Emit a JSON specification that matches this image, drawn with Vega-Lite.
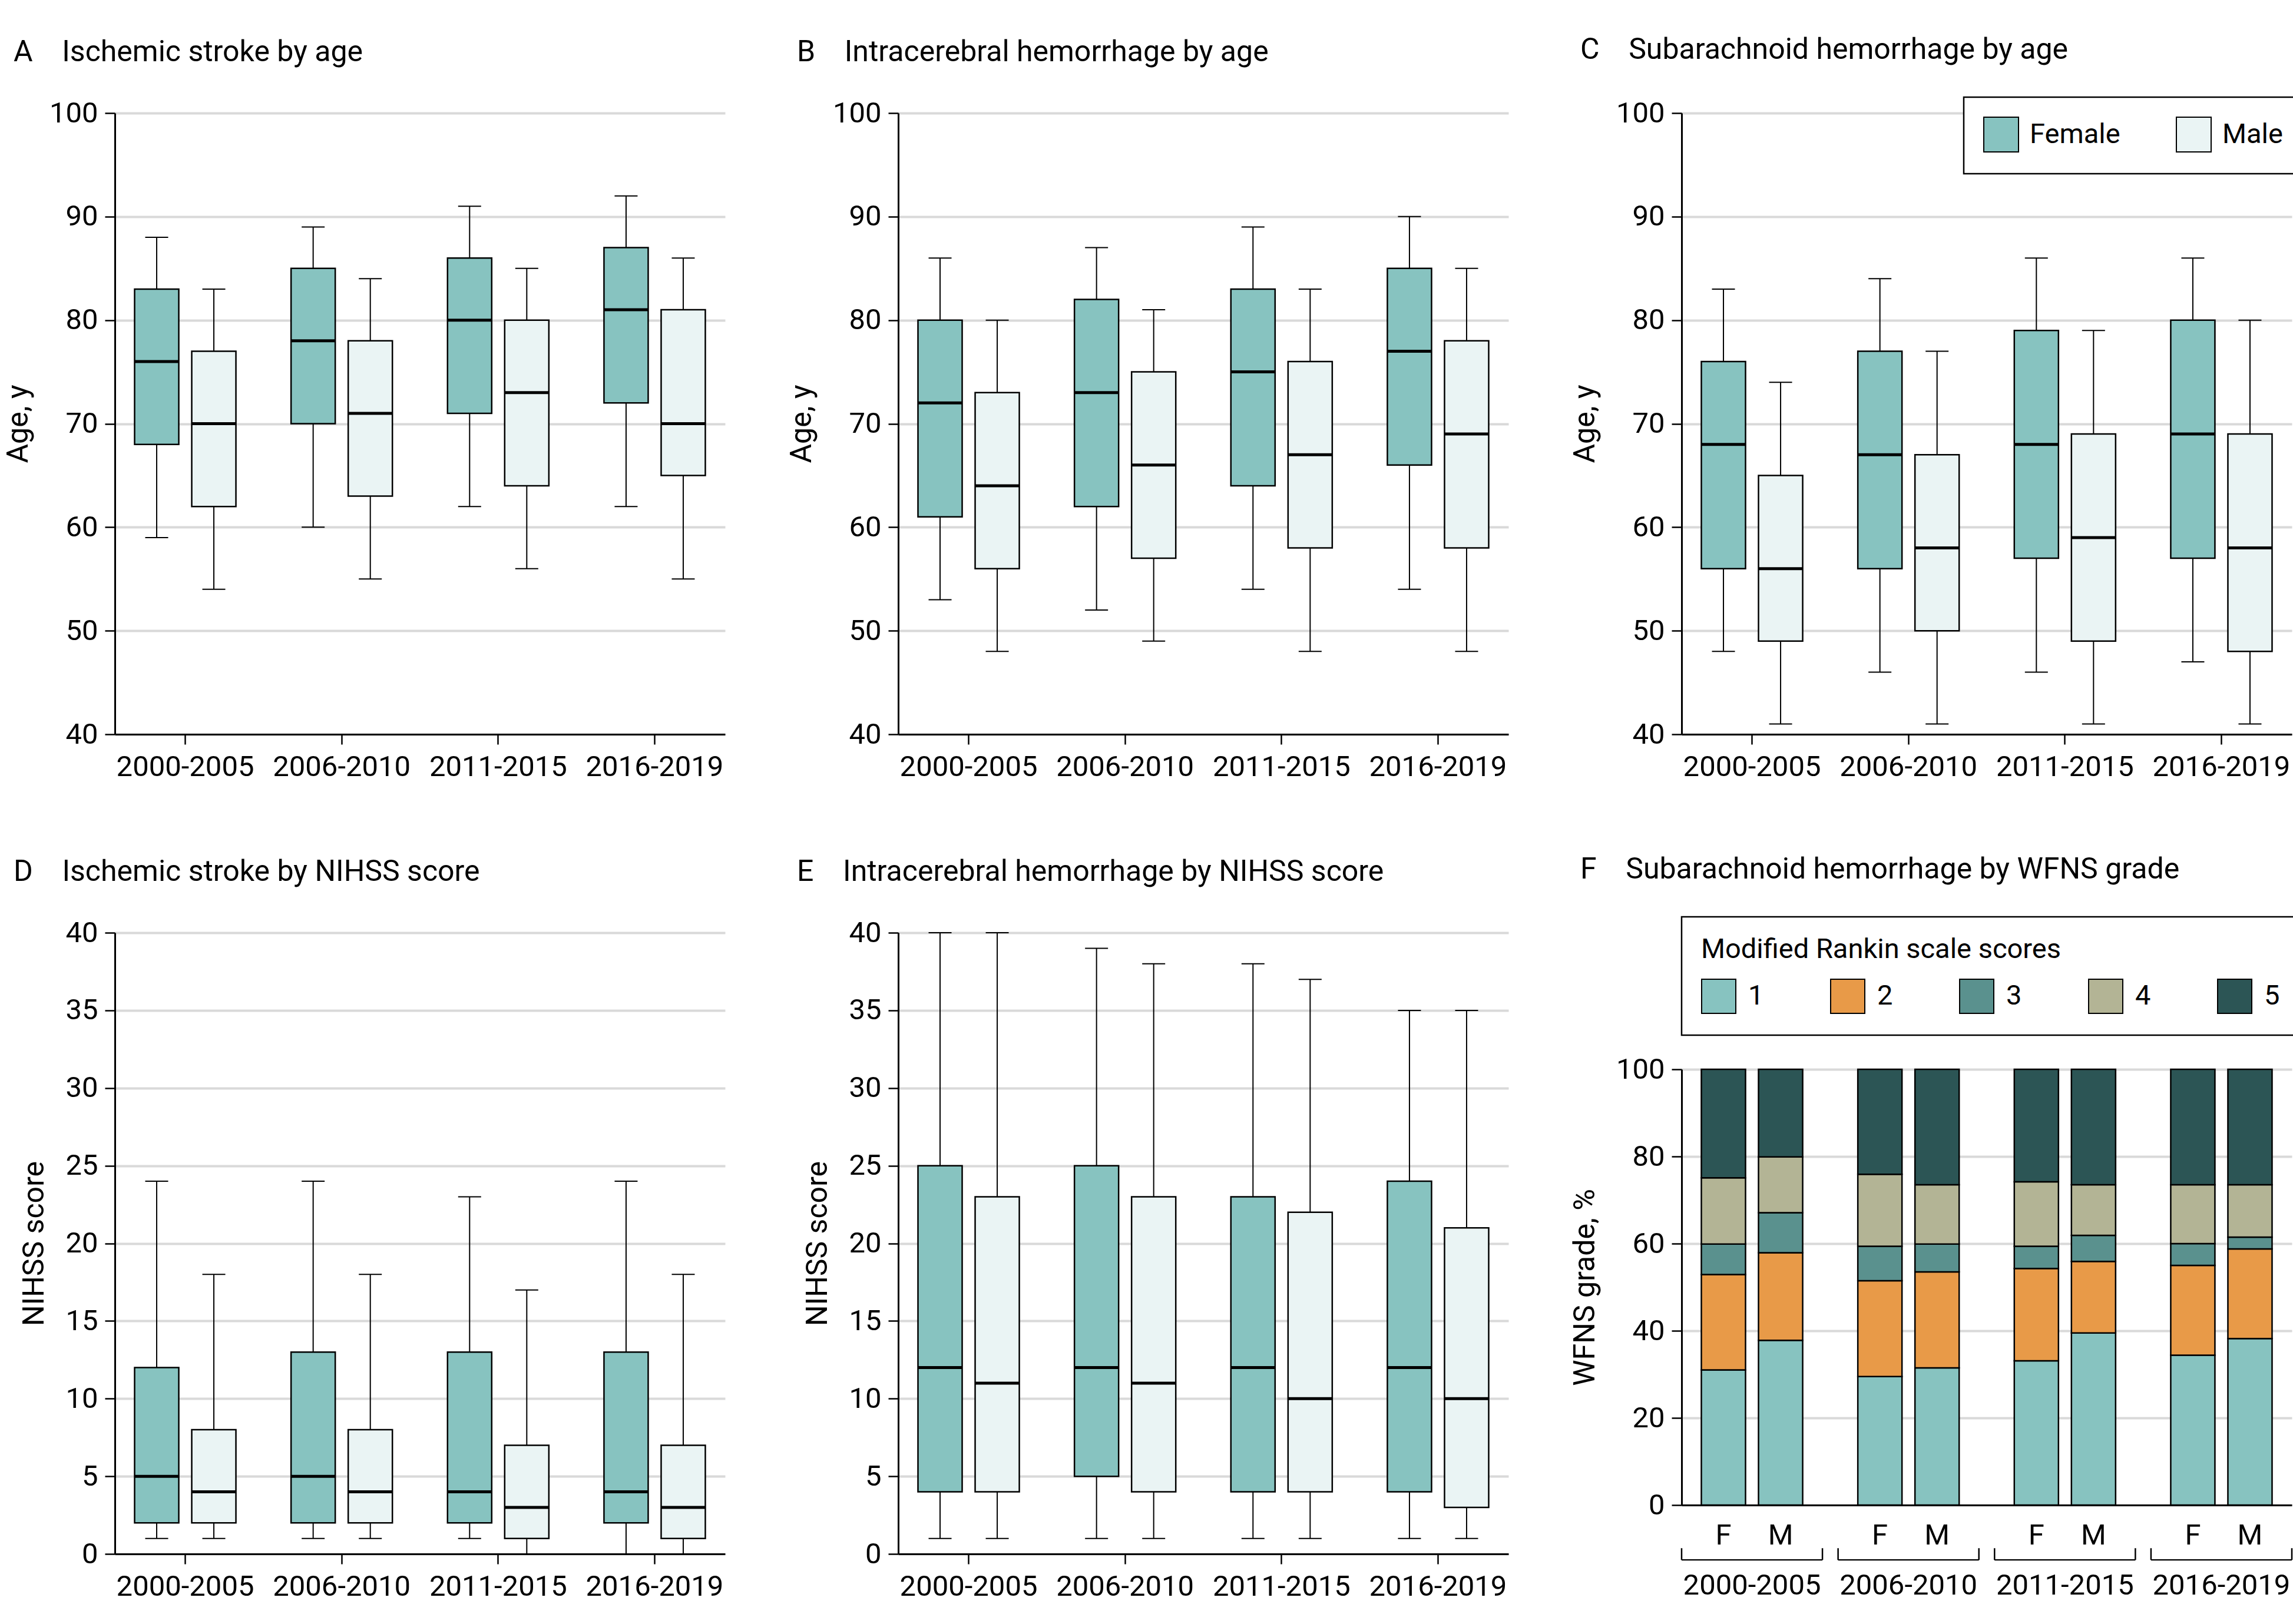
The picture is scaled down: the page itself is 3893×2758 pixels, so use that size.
{
  "$schema": "https://vega.github.io/schema/vega-lite/v6.json",
  "background": "white",
  "padding": {"left": 6, "top": 59, "right": 2, "bottom": 5},
  "columns": 3,
  "bounds": "flush",
  "spacing": {"row": 337, "column": 294},
  "resolve": {"scale": {"color": "independent", "x": "independent", "y": "independent", "xOffset": "independent"}},
  "config": {
    "font": "Roboto",
    "view": {"stroke": null},
    "axis": {"domainColor": "black", "domainWidth": 3, "tickColor": "black", "tickWidth": 2.5, "tickSize": 17, "labelFont": "Roboto", "labelFontSize": 49, "labelColor": "black", "labelPadding": 12, "labelLimit": 600, "titleFont": "Roboto", "titleFontSize": 50, "titleFontWeight": "normal", "titleColor": "black", "titlePadding": 27, "titleLimit": 2000, "gridColor": "#d9d9d9", "gridWidth": 4},
    "axisX": {"grid": false, "labelPadding": 14, "labelAngle": 0},
    "axisY": {"grid": true},
    "title": {"font": "Roboto", "fontSize": 50, "fontWeight": "normal", "color": "black", "anchor": "start", "frame": "group", "dx": -172, "offset": 54, "limit": 3000},
    "legend": {"labelFont": "Roboto", "labelFontSize": 47, "labelColor": "black", "labelLimit": 1000, "titleFont": "Roboto", "titleFontSize": 47, "titleFontWeight": "normal", "titleColor": "black", "titleLimit": 3000, "symbolType": "square", "symbolStrokeColor": "black", "symbolStrokeWidth": 2, "symbolOpacity": 1, "strokeColor": "black", "strokeWidth": 2.5, "fillColor": "white", "padding": 33}
  },
  "datasets": {
    "box": [
      {"panel":"A","period":"2000-2005","sex":"Female","lo":59,"q1":68,"med":76,"q3":83,"hi":88},
      {"panel":"A","period":"2000-2005","sex":"Male","lo":54,"q1":62,"med":70,"q3":77,"hi":83},
      {"panel":"A","period":"2006-2010","sex":"Female","lo":60,"q1":70,"med":78,"q3":85,"hi":89},
      {"panel":"A","period":"2006-2010","sex":"Male","lo":55,"q1":63,"med":71,"q3":78,"hi":84},
      {"panel":"A","period":"2011-2015","sex":"Female","lo":62,"q1":71,"med":80,"q3":86,"hi":91},
      {"panel":"A","period":"2011-2015","sex":"Male","lo":56,"q1":64,"med":73,"q3":80,"hi":85},
      {"panel":"A","period":"2016-2019","sex":"Female","lo":62,"q1":72,"med":81,"q3":87,"hi":92},
      {"panel":"A","period":"2016-2019","sex":"Male","lo":55,"q1":65,"med":70,"q3":81,"hi":86},
      {"panel":"B","period":"2000-2005","sex":"Female","lo":53,"q1":61,"med":72,"q3":80,"hi":86},
      {"panel":"B","period":"2000-2005","sex":"Male","lo":48,"q1":56,"med":64,"q3":73,"hi":80},
      {"panel":"B","period":"2006-2010","sex":"Female","lo":52,"q1":62,"med":73,"q3":82,"hi":87},
      {"panel":"B","period":"2006-2010","sex":"Male","lo":49,"q1":57,"med":66,"q3":75,"hi":81},
      {"panel":"B","period":"2011-2015","sex":"Female","lo":54,"q1":64,"med":75,"q3":83,"hi":89},
      {"panel":"B","period":"2011-2015","sex":"Male","lo":48,"q1":58,"med":67,"q3":76,"hi":83},
      {"panel":"B","period":"2016-2019","sex":"Female","lo":54,"q1":66,"med":77,"q3":85,"hi":90},
      {"panel":"B","period":"2016-2019","sex":"Male","lo":48,"q1":58,"med":69,"q3":78,"hi":85},
      {"panel":"C","period":"2000-2005","sex":"Female","lo":48,"q1":56,"med":68,"q3":76,"hi":83},
      {"panel":"C","period":"2000-2005","sex":"Male","lo":41,"q1":49,"med":56,"q3":65,"hi":74},
      {"panel":"C","period":"2006-2010","sex":"Female","lo":46,"q1":56,"med":67,"q3":77,"hi":84},
      {"panel":"C","period":"2006-2010","sex":"Male","lo":41,"q1":50,"med":58,"q3":67,"hi":77},
      {"panel":"C","period":"2011-2015","sex":"Female","lo":46,"q1":57,"med":68,"q3":79,"hi":86},
      {"panel":"C","period":"2011-2015","sex":"Male","lo":41,"q1":49,"med":59,"q3":69,"hi":79},
      {"panel":"C","period":"2016-2019","sex":"Female","lo":47,"q1":57,"med":69,"q3":80,"hi":86},
      {"panel":"C","period":"2016-2019","sex":"Male","lo":41,"q1":48,"med":58,"q3":69,"hi":80},
      {"panel":"D","period":"2000-2005","sex":"Female","lo":1,"q1":2,"med":5,"q3":12,"hi":24},
      {"panel":"D","period":"2000-2005","sex":"Male","lo":1,"q1":2,"med":4,"q3":8,"hi":18},
      {"panel":"D","period":"2006-2010","sex":"Female","lo":1,"q1":2,"med":5,"q3":13,"hi":24},
      {"panel":"D","period":"2006-2010","sex":"Male","lo":1,"q1":2,"med":4,"q3":8,"hi":18},
      {"panel":"D","period":"2011-2015","sex":"Female","lo":1,"q1":2,"med":4,"q3":13,"hi":23},
      {"panel":"D","period":"2011-2015","sex":"Male","lo":0,"q1":1,"med":3,"q3":7,"hi":17},
      {"panel":"D","period":"2016-2019","sex":"Female","lo":0,"q1":2,"med":4,"q3":13,"hi":24},
      {"panel":"D","period":"2016-2019","sex":"Male","lo":0,"q1":1,"med":3,"q3":7,"hi":18},
      {"panel":"E","period":"2000-2005","sex":"Female","lo":1,"q1":4,"med":12,"q3":25,"hi":40},
      {"panel":"E","period":"2000-2005","sex":"Male","lo":1,"q1":4,"med":11,"q3":23,"hi":40},
      {"panel":"E","period":"2006-2010","sex":"Female","lo":1,"q1":5,"med":12,"q3":25,"hi":39},
      {"panel":"E","period":"2006-2010","sex":"Male","lo":1,"q1":4,"med":11,"q3":23,"hi":38},
      {"panel":"E","period":"2011-2015","sex":"Female","lo":1,"q1":4,"med":12,"q3":23,"hi":38},
      {"panel":"E","period":"2011-2015","sex":"Male","lo":1,"q1":4,"med":10,"q3":22,"hi":37},
      {"panel":"E","period":"2016-2019","sex":"Female","lo":1,"q1":4,"med":12,"q3":24,"hi":35},
      {"panel":"E","period":"2016-2019","sex":"Male","lo":1,"q1":3,"med":10,"q3":21,"hi":35}
    ],
    "wfns": [
      {"period":"2000-2005","sex":"F","score":"1","pct":31.0},
      {"period":"2000-2005","sex":"F","score":"2","pct":21.9},
      {"period":"2000-2005","sex":"F","score":"3","pct":7.0},
      {"period":"2000-2005","sex":"F","score":"4","pct":15.2},
      {"period":"2000-2005","sex":"F","score":"5","pct":24.9},
      {"period":"2000-2005","sex":"M","score":"1","pct":37.8},
      {"period":"2000-2005","sex":"M","score":"2","pct":20.1},
      {"period":"2000-2005","sex":"M","score":"3","pct":9.2},
      {"period":"2000-2005","sex":"M","score":"4","pct":12.8},
      {"period":"2000-2005","sex":"M","score":"5","pct":20.1},
      {"period":"2006-2010","sex":"F","score":"1","pct":29.5},
      {"period":"2006-2010","sex":"F","score":"2","pct":22.0},
      {"period":"2006-2010","sex":"F","score":"3","pct":7.9},
      {"period":"2006-2010","sex":"F","score":"4","pct":16.5},
      {"period":"2006-2010","sex":"F","score":"5","pct":24.1},
      {"period":"2006-2010","sex":"M","score":"1","pct":31.5},
      {"period":"2006-2010","sex":"M","score":"2","pct":22.0},
      {"period":"2006-2010","sex":"M","score":"3","pct":6.4},
      {"period":"2006-2010","sex":"M","score":"4","pct":13.6},
      {"period":"2006-2010","sex":"M","score":"5","pct":26.5},
      {"period":"2011-2015","sex":"F","score":"1","pct":33.1},
      {"period":"2011-2015","sex":"F","score":"2","pct":21.2},
      {"period":"2011-2015","sex":"F","score":"3","pct":5.1},
      {"period":"2011-2015","sex":"F","score":"4","pct":14.8},
      {"period":"2011-2015","sex":"F","score":"5","pct":25.8},
      {"period":"2011-2015","sex":"M","score":"1","pct":39.5},
      {"period":"2011-2015","sex":"M","score":"2","pct":16.4},
      {"period":"2011-2015","sex":"M","score":"3","pct":6.0},
      {"period":"2011-2015","sex":"M","score":"4","pct":11.6},
      {"period":"2011-2015","sex":"M","score":"5","pct":26.5},
      {"period":"2016-2019","sex":"F","score":"1","pct":34.4},
      {"period":"2016-2019","sex":"F","score":"2","pct":20.6},
      {"period":"2016-2019","sex":"F","score":"3","pct":5.0},
      {"period":"2016-2019","sex":"F","score":"4","pct":13.5},
      {"period":"2016-2019","sex":"F","score":"5","pct":26.5},
      {"period":"2016-2019","sex":"M","score":"1","pct":38.2},
      {"period":"2016-2019","sex":"M","score":"2","pct":20.6},
      {"period":"2016-2019","sex":"M","score":"3","pct":2.7},
      {"period":"2016-2019","sex":"M","score":"4","pct":12.0},
      {"period":"2016-2019","sex":"M","score":"5","pct":26.5}
    ]
  },
  "concat": [
    {
      "width": 1036, "height": 1055,
      "title": {"text": "A\u00a0\u00a0\u00a0\u00a0Ischemic stroke by age"},
      "data": {"name": "box"},
      "transform": [{"filter": "datum.panel === 'A'"}],
      "encoding": {
        "x": {"field": "period", "type": "nominal", "scale": {"paddingInner": 0.1, "paddingOuter": 0}, "axis": {"title": null}},
        "xOffset": {"field": "sex", "type": "nominal", "scale": {"paddingInner": 0.2268, "paddingOuter": 0.3454}}
      },
      "layer": [
        {"mark": {"type": "rule", "color": "black", "strokeWidth": 2}, "encoding": {"y": {"field": "lo", "type": "quantitative", "title": "Age, y", "scale": {"domain": [40, 100], "nice": false, "zero": false}, "axis": {"values": [40, 50, 60, 70, 80, 90, 100]}}, "y2": {"field": "hi"}}},
        {"mark": {"type": "tick", "color": "black", "size": 39, "thickness": 2, "opacity": 1}, "encoding": {"y": {"field": "lo", "type": "quantitative", "title": "Age, y"}}},
        {"mark": {"type": "tick", "color": "black", "size": 39, "thickness": 2, "opacity": 1}, "encoding": {"y": {"field": "hi", "type": "quantitative", "title": "Age, y"}}},
        {"mark": {"type": "bar", "stroke": "black", "strokeWidth": 2.5, "opacity": 1}, "encoding": {"y": {"field": "q1", "type": "quantitative", "title": "Age, y"}, "y2": {"field": "q3"}, "color": {"field": "sex", "type": "nominal", "scale": {"domain": ["Female", "Male"], "range": ["#87c3c0", "#eaf4f4"]}, "legend": null}}},
        {"mark": {"type": "tick", "color": "black", "size": 75, "thickness": 5, "opacity": 1}, "encoding": {"y": {"field": "med", "type": "quantitative", "title": "Age, y"}}}
      ]
    },
    {
      "width": 1036, "height": 1055,
      "title": {"text": "B\u00a0\u00a0\u00a0\u00a0Intracerebral hemorrhage by age"},
      "data": {"name": "box"},
      "transform": [{"filter": "datum.panel === 'B'"}],
      "encoding": {
        "x": {"field": "period", "type": "nominal", "scale": {"paddingInner": 0.1, "paddingOuter": 0}, "axis": {"title": null}},
        "xOffset": {"field": "sex", "type": "nominal", "scale": {"paddingInner": 0.2268, "paddingOuter": 0.3454}}
      },
      "layer": [
        {"mark": {"type": "rule", "color": "black", "strokeWidth": 2}, "encoding": {"y": {"field": "lo", "type": "quantitative", "title": "Age, y", "scale": {"domain": [40, 100], "nice": false, "zero": false}, "axis": {"values": [40, 50, 60, 70, 80, 90, 100]}}, "y2": {"field": "hi"}}},
        {"mark": {"type": "tick", "color": "black", "size": 39, "thickness": 2, "opacity": 1}, "encoding": {"y": {"field": "lo", "type": "quantitative", "title": "Age, y"}}},
        {"mark": {"type": "tick", "color": "black", "size": 39, "thickness": 2, "opacity": 1}, "encoding": {"y": {"field": "hi", "type": "quantitative", "title": "Age, y"}}},
        {"mark": {"type": "bar", "stroke": "black", "strokeWidth": 2.5, "opacity": 1}, "encoding": {"y": {"field": "q1", "type": "quantitative", "title": "Age, y"}, "y2": {"field": "q3"}, "color": {"field": "sex", "type": "nominal", "scale": {"domain": ["Female", "Male"], "range": ["#87c3c0", "#eaf4f4"]}, "legend": null}}},
        {"mark": {"type": "tick", "color": "black", "size": 75, "thickness": 5, "opacity": 1}, "encoding": {"y": {"field": "med", "type": "quantitative", "title": "Age, y"}}}
      ]
    },
    {
      "width": 1036, "height": 1055,
      "title": {"text": "C\u00a0\u00a0\u00a0\u00a0Subarachnoid hemorrhage by age"},
      "data": {"name": "box"},
      "transform": [{"filter": "datum.panel === 'C'"}],
      "encoding": {
        "x": {"field": "period", "type": "nominal", "scale": {"paddingInner": 0.1, "paddingOuter": 0}, "axis": {"title": null}},
        "xOffset": {"field": "sex", "type": "nominal", "scale": {"paddingInner": 0.2268, "paddingOuter": 0.3454}}
      },
      "layer": [
        {"mark": {"type": "rule", "color": "black", "strokeWidth": 2}, "encoding": {"y": {"field": "lo", "type": "quantitative", "title": "Age, y", "scale": {"domain": [40, 100], "nice": false, "zero": false}, "axis": {"values": [40, 50, 60, 70, 80, 90, 100]}}, "y2": {"field": "hi"}}},
        {"mark": {"type": "tick", "color": "black", "size": 39, "thickness": 2, "opacity": 1}, "encoding": {"y": {"field": "lo", "type": "quantitative", "title": "Age, y"}}},
        {"mark": {"type": "tick", "color": "black", "size": 39, "thickness": 2, "opacity": 1}, "encoding": {"y": {"field": "hi", "type": "quantitative", "title": "Age, y"}}},
        {"mark": {"type": "bar", "stroke": "black", "strokeWidth": 2.5, "opacity": 1}, "encoding": {"y": {"field": "q1", "type": "quantitative", "title": "Age, y"}, "y2": {"field": "q3"}, "color": {"field": "sex", "type": "nominal", "scale": {"domain": ["Female", "Male"], "range": ["#87c3c0", "#eaf4f4"]}, "legend": {"orient": "none", "legendX": 479, "legendY": -27, "direction": "horizontal", "columns": 2, "title": null, "symbolSize": 3481, "labelOffset": 18, "columnPadding": 91}}}},
        {"mark": {"type": "tick", "color": "black", "size": 75, "thickness": 5, "opacity": 1}, "encoding": {"y": {"field": "med", "type": "quantitative", "title": "Age, y"}}}
      ]
    },
    {
      "width": 1036, "height": 1055,
      "title": {"text": "D\u00a0\u00a0\u00a0\u00a0Ischemic stroke by NIHSS score"},
      "data": {"name": "box"},
      "transform": [{"filter": "datum.panel === 'D'"}],
      "encoding": {
        "x": {"field": "period", "type": "nominal", "scale": {"paddingInner": 0.1, "paddingOuter": 0}, "axis": {"title": null}},
        "xOffset": {"field": "sex", "type": "nominal", "scale": {"paddingInner": 0.2268, "paddingOuter": 0.3454}}
      },
      "layer": [
        {"mark": {"type": "rule", "color": "black", "strokeWidth": 2}, "encoding": {"y": {"field": "lo", "type": "quantitative", "title": "NIHSS score", "scale": {"domain": [0, 40], "nice": false}, "axis": {"values": [0, 5, 10, 15, 20, 25, 30, 35, 40]}}, "y2": {"field": "hi"}}},
        {"mark": {"type": "tick", "color": "black", "size": 39, "thickness": 2, "opacity": 1}, "encoding": {"y": {"field": "lo", "type": "quantitative", "title": "NIHSS score"}}},
        {"mark": {"type": "tick", "color": "black", "size": 39, "thickness": 2, "opacity": 1}, "encoding": {"y": {"field": "hi", "type": "quantitative", "title": "NIHSS score"}}},
        {"mark": {"type": "bar", "stroke": "black", "strokeWidth": 2.5, "opacity": 1}, "encoding": {"y": {"field": "q1", "type": "quantitative", "title": "NIHSS score"}, "y2": {"field": "q3"}, "color": {"field": "sex", "type": "nominal", "scale": {"domain": ["Female", "Male"], "range": ["#87c3c0", "#eaf4f4"]}, "legend": null}}},
        {"mark": {"type": "tick", "color": "black", "size": 75, "thickness": 5, "opacity": 1}, "encoding": {"y": {"field": "med", "type": "quantitative", "title": "NIHSS score"}}}
      ]
    },
    {
      "width": 1036, "height": 1055,
      "title": {"text": "E\u00a0\u00a0\u00a0\u00a0Intracerebral hemorrhage by NIHSS score"},
      "data": {"name": "box"},
      "transform": [{"filter": "datum.panel === 'E'"}],
      "encoding": {
        "x": {"field": "period", "type": "nominal", "scale": {"paddingInner": 0.1, "paddingOuter": 0}, "axis": {"title": null}},
        "xOffset": {"field": "sex", "type": "nominal", "scale": {"paddingInner": 0.2268, "paddingOuter": 0.3454}}
      },
      "layer": [
        {"mark": {"type": "rule", "color": "black", "strokeWidth": 2}, "encoding": {"y": {"field": "lo", "type": "quantitative", "title": "NIHSS score", "scale": {"domain": [0, 40], "nice": false}, "axis": {"values": [0, 5, 10, 15, 20, 25, 30, 35, 40]}}, "y2": {"field": "hi"}}},
        {"mark": {"type": "tick", "color": "black", "size": 39, "thickness": 2, "opacity": 1}, "encoding": {"y": {"field": "lo", "type": "quantitative", "title": "NIHSS score"}}},
        {"mark": {"type": "tick", "color": "black", "size": 39, "thickness": 2, "opacity": 1}, "encoding": {"y": {"field": "hi", "type": "quantitative", "title": "NIHSS score"}}},
        {"mark": {"type": "bar", "stroke": "black", "strokeWidth": 2.5, "opacity": 1}, "encoding": {"y": {"field": "q1", "type": "quantitative", "title": "NIHSS score"}, "y2": {"field": "q3"}, "color": {"field": "sex", "type": "nominal", "scale": {"domain": ["Female", "Male"], "range": ["#87c3c0", "#eaf4f4"]}, "legend": null}}},
        {"mark": {"type": "tick", "color": "black", "size": 75, "thickness": 5, "opacity": 1}, "encoding": {"y": {"field": "med", "type": "quantitative", "title": "NIHSS score"}}}
      ]
    },
    {
      "width": 1036, "height": 1055,
      "title": {"text": "F\u00a0\u00a0\u00a0\u00a0Subarachnoid hemorrhage by WFNS grade"},
      "data": {"name": "wfns"},
      "encoding": {
        "x": {"field": "period", "type": "nominal", "scale": {"paddingInner": 0.1, "paddingOuter": 0}, "axis": {"title": null, "ticks": false, "tickSize": 0, "labelPadding": 112, "offset": -83}}
      },
      "layer": [
        {"mark": {"type": "bar", "stroke": "black", "strokeWidth": 2.5, "opacity": 1},
         "encoding": {
           "xOffset": {"field": "sex", "type": "nominal", "scale": {"paddingInner": 0.2268, "paddingOuter": 0.3454}},
           "y": {"field": "pct", "type": "quantitative", "stack": "zero", "title": "WFNS grade, %", "scale": {"domain": [0, 100], "range": [972, 232], "nice": false}, "axis": {"values": [0, 20, 40, 60, 80, 100]}},
           "order": {"field": "score", "type": "ordinal", "sort": "ascending"},
           "color": {"field": "score", "type": "nominal", "scale": {"domain": ["1", "2", "3", "4", "5"], "range": ["#87c3c0", "#e89a48", "#5a918e", "#b3b495", "#2c5555"]}, "legend": {"orient": "none", "legendX": 0, "legendY": -27, "direction": "horizontal", "columns": 5, "title": "Modified Rankin scale scores", "titlePadding": 25, "symbolSize": 3364, "labelOffset": 20, "columnPadding": 109}}
         }},
        {"transform": [{"filter": "datum.score === '1'"}],
         "mark": {"type": "text", "font": "Roboto", "fontSize": 49, "color": "black", "baseline": "middle", "align": "center"},
         "encoding": {
           "xOffset": {"field": "sex", "type": "nominal", "scale": {"paddingInner": 0.2268, "paddingOuter": 0.3454}},
           "y": {"datum": -7, "type": "quantitative"},
           "text": {"field": "sex"}
         }},
        {"transform": [{"filter": "datum.score === '1' && datum.sex === 'F'"}],
         "mark": {"type": "rule", "color": "black", "strokeWidth": 2.5},
         "encoding": {"x": {"field": "period", "type": "nominal", "bandPosition": 0}, "y": {"datum": -9.9, "type": "quantitative"}, "y2": {"datum": -12.6}}},
        {"transform": [{"filter": "datum.score === '1' && datum.sex === 'F'"}],
         "mark": {"type": "rule", "color": "black", "strokeWidth": 2.5},
         "encoding": {"x": {"field": "period", "type": "nominal", "bandPosition": 1}, "y": {"datum": -9.9, "type": "quantitative"}, "y2": {"datum": -12.6}}},
        {"transform": [{"filter": "datum.score === '1' && datum.sex === 'F'"}],
         "mark": {"type": "bar", "color": "black"},
         "encoding": {"y": {"datum": -12.42, "type": "quantitative"}, "y2": {"datum": -12.75}}}
      ]
    }
  ]
}
